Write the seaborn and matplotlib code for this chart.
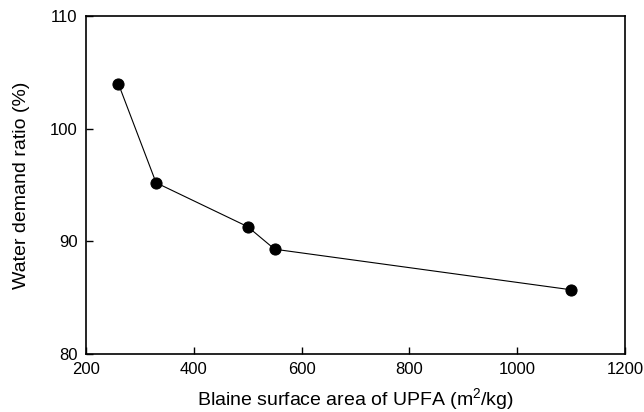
import matplotlib
matplotlib.use("Agg")
import matplotlib.pyplot as plt
import seaborn as sns
import pandas as pd

blaine = [260, 330, 500, 550, 1100]
water_demand = [104.0, 95.2, 91.3, 89.3, 85.7]
x_ticks = [200, 400, 600, 800, 1000, 1200]
y_ticks = [80, 90, 100, 110]

df = pd.DataFrame({"blaine": blaine, "wd": water_demand})

sns.set_style("ticks")
plt.rcParams['font.family'] = ['Liberation Sans', 'DejaVu Sans']
plt.rcParams['mathtext.fontset'] = 'custom'
plt.rcParams['mathtext.rm'] = 'Liberation Sans'
plt.rcParams['mathtext.it'] = 'Liberation Sans'
plt.rcParams['text.color'] = 'black'
plt.rcParams['axes.labelcolor'] = 'black'

fig = plt.figure(figsize=(6.44, 4.12), dpi=100)
ax = fig.add_axes([86/644, 1 - 354/412, (625-86)/644, (354-16)/412])

sns.lineplot(data=df, x="blaine", y="wd", ax=ax, color="black", linewidth=0.8,
             marker="o", markersize=8, markeredgecolor="black", markerfacecolor="black")

ax.set_xlim(200, 1200)
ax.set_ylim(80, 110)
ax.set_xticks(x_ticks)
ax.set_yticks(y_ticks)
ax.tick_params(direction="in", length=5, width=1, labelsize=12, colors="black", pad=6)
for s in ax.spines.values():
    s.set_visible(True)
    s.set_linewidth(1.2)
    s.set_color("black")
ax.set_xlabel("Blaine surface area of UPFA (m$^2$/kg)", fontsize=14, labelpad=6, color="black")
ax.set_ylabel("Water demand ratio (%)", fontsize=14, labelpad=14, color="black")

fig.savefig("out.png", dpi=100)
